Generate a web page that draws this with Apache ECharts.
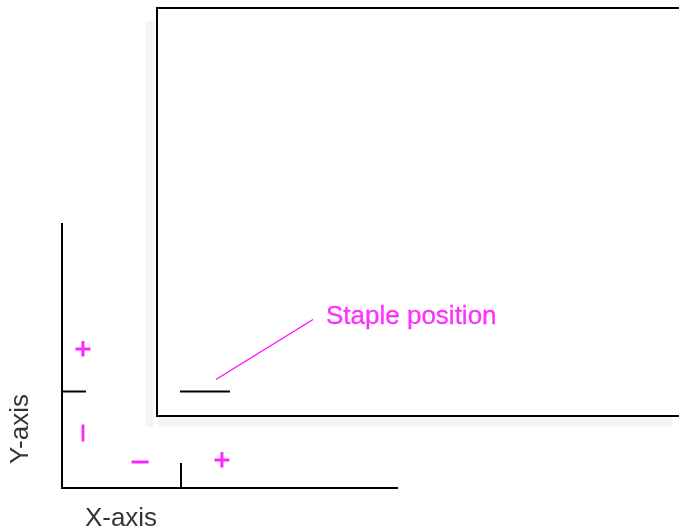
<!DOCTYPE html>
<html>
<head>
<meta charset="utf-8">
<style>
html,body{margin:0;padding:0;background:#fff;}
#chart{width:679px;height:530px;}
</style>
<script src="https://cdn.jsdelivr.net/npm/echarts@6/dist/echarts.min.js"></script>
</head>
<body>
<div id="chart"></div>
<script>
// Diagram coordinates (drawing units, y grows downward)
const pageOutline = [[679, 8], [157, 8], [157, 416], [679, 416]];
const shadowLeft = [[150, 21], [150, 427]];
const shadowBottom = [[157.5, 422], [672, 422]];
const stapleMark = [[180, 391.5], [230, 391.5]];
const leaderLine = [[216, 379.5], [313, 319.5]];
const yAxisLine = [[62, 223], [62, 488], [398, 488]];
const yAxisTick = [[62, 391.5], [86, 391.5]];
const xAxisTick = [[181, 463], [181, 488]];
const labelsPink = [
  {pos: [326, 317], text: 'Staple position', align: 'left', rotate: 0, size: 26, stroke: 0.3}
];
const signsPink = [
  {pos: [83, 351], text: '+', align: 'center', rotate: 0, size: 29, stroke: 0.8},
  {pos: [83, 433], text: '–', align: 'center', rotate: 90, size: 29, stroke: 0.8},
  {pos: [140, 462], text: '–', align: 'center', rotate: 0, size: 29, stroke: 0.8},
  {pos: [222, 462], text: '+', align: 'center', rotate: 0, size: 29, stroke: 0.8}
];
const labelsBlack = [
  {pos: [121, 519], text: 'X-axis', align: 'center', rotate: 0, size: 26, stroke: 0},
  {pos: [21, 429], text: 'Y-axis', align: 'center', rotate: 90, size: 26, stroke: 0}
];

const FONT = 'Liberation Sans, Arial, Helvetica, sans-serif';
function lineSeries(data, color, width) {
  return {
    type: 'line', data: data, symbol: 'none', silent: true, animation: false,
    lineStyle: {color: color, width: width, cap: 'butt', join: 'miter'}
  };
}
function textSeries(items, color) {
  return {
    type: 'scatter', symbolSize: 0, silent: true, animation: false,
    itemStyle: {color: color},
    data: items.map(function (d) {
      return {
        value: d.pos,
        label: {
          show: true, position: 'inside', formatter: d.text, align: d.align,
          verticalAlign: 'middle', rotate: d.rotate, color: color,
          textBorderWidth: d.stroke, textBorderColor: d.stroke ? color : 'transparent',
          fontSize: d.size, fontWeight: 'normal', fontFamily: FONT
        }
      };
    })
  };
}

const chart = echarts.init(document.getElementById('chart'), null, {renderer: 'canvas'});
chart.setOption({
  backgroundColor: '#ffffff',
  animation: false,
  grid: {left: 0, right: 0, top: 0, bottom: 0},
  xAxis: {type: 'value', min: 0, max: 679, show: false},
  yAxis: {type: 'value', min: 0, max: 530, inverse: true, show: false},
  series: [
    lineSeries(shadowLeft, '#f5f5f5', 9),
    lineSeries(shadowBottom, '#f5f5f5', 10),
    lineSeries(pageOutline, '#000000', 2),
    lineSeries(stapleMark, '#000000', 2),
    lineSeries(leaderLine, '#ff00ff', 1.2),
    lineSeries(yAxisLine, '#000000', 2),
    lineSeries(yAxisTick, '#000000', 2),
    lineSeries(xAxisTick, '#000000', 2),
    textSeries(labelsPink, '#ff00ff'),
    textSeries(signsPink, '#ff00ff'),
    textSeries(labelsBlack, '#000000')
  ]
});
</script>
</body>
</html>
